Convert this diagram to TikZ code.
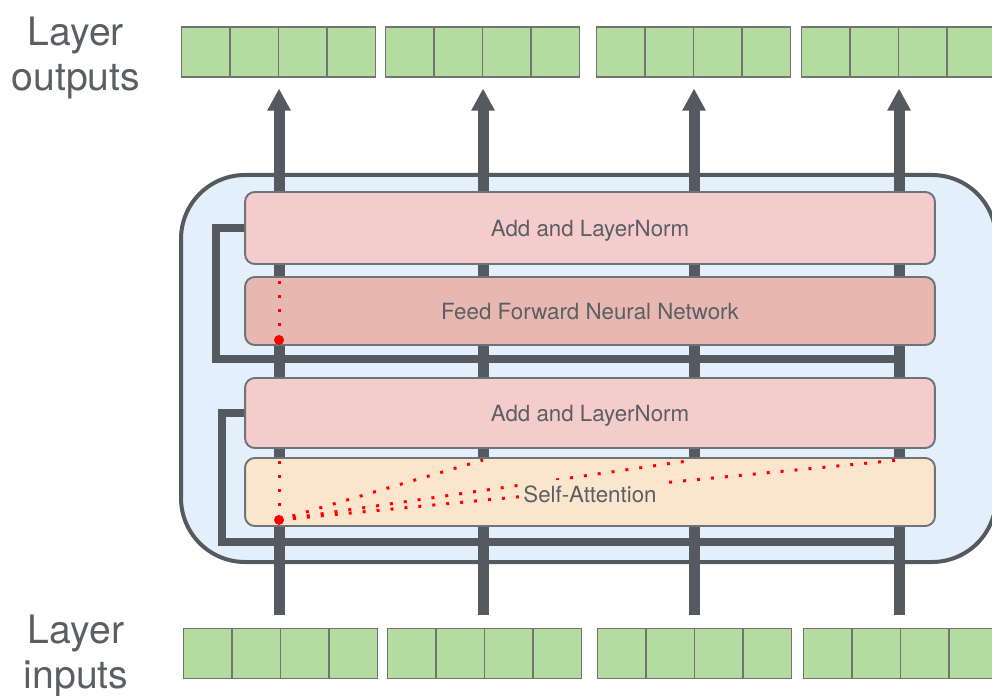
\documentclass[tikz,border=0pt]{standalone}
\usepackage{fontspec}
\setmainfont{TeX Gyre Heros}
\usetikzlibrary{arrows.meta,positioning}

\definecolor{slate}{HTML}{555A60}
\definecolor{textgray}{HTML}{5B5F64}
\definecolor{cellgreen}{HTML}{B4DBA0}
\definecolor{panelblue}{HTML}{E3EFFB}
\definecolor{normred}{HTML}{F4CCCC}
\definecolor{ffnred}{HTML}{E6B8AF}
\definecolor{attnorange}{HTML}{FCE5CD}

\begin{document}
\begin{tikzpicture}[
  x=0.02cm,y=-0.02cm,
  font=\fontsize{12.7}{15}\selectfont,
  cell/.style={draw=black!55,line width=.6pt,fill=cellgreen,minimum width=.97cm,minimum height=1cm,inner sep=0pt,anchor=west},
  block/.style={draw=slate!85,line width=1.1pt,rounded corners=5.5pt,minimum width=13.8cm,text=textgray,text depth=0pt},
  column/.style={slate,line width=.22cm,-{Triangle[width=.44cm,length=.44cm]}},
  residual/.style={slate,line width=.18cm},
  link/.style={red,line width=.06cm,dash pattern=on .06cm off .22cm},
  side/.style={font=\fontsize{22.3}{25.5}\selectfont,align=center,text=textgray}
]
\useasboundingbox (0,0) rectangle (992,696);
\clip (0,0) rectangle (992,696);

% Token vectors above and below the layer.
\foreach \g/\ox/\ix in {1/181/183,2/385/387,3/596/597,4/801/803}{
  \foreach \c in {1,...,4}{
    \node[cell] (out\g\c) at ({\ox+(\c-1)*48.5},52) {};
    \node[cell] (in\g\c) at ({\ix+(\c-1)*48.5},653.5) {};
  }
  \coordinate (col\g) at (out\g2.south east);
}
\node[side] (outlabel) at (76,58) {Layer\\outputs};
\node[side] (inlabel) at (76,656) {Layer\\inputs};

% Encoder layer.
\draw[slate,line width=.08cm,fill=panelblue,rounded corners=1.28cm] (181,175) rectangle (996,562);
\foreach \g in {1,...,4}
  \draw[column] ([yshift=.26cm]col\g |- in\g2.north) -- ([yshift=-.22cm]col\g);

\coordinate (res2) at (col4 |- 0,359);
\coordinate (res1) at (col4 |- 0,542);
\draw[residual] (res2) -- (216,359) |- (590,228);
\draw[residual] (res1) -- (222,542) |- (590,413);

\node[block,fill=normred,minimum height=1.44cm] (ln2) at (590,228) {Add and LayerNorm};
\node[block,fill=ffnred,minimum height=1.36cm] (ffn) at (590,311) {Feed Forward Neural Network};
\node[block,fill=normred,minimum height=1.4cm] (ln1) at (590,413) {Add and LayerNorm};
\node[block,fill=attnorange,minimum height=1.36cm] (attn) at (590,492) {};

% Which positions each token looks at.
\path (ffn.south -| col1) ++(0,-6) coordinate (fdot);
\path (ffn.north -| col1) ++(0,5) coordinate (ftop);
\draw[link] (fdot) -- (ftop);
\path (attn.south -| col1) ++(0,-7) coordinate (adot);
\foreach \k in {1,...,4}{
  \path (attn.north -| col\k) ++(0,3) coordinate (att\k);
  \draw[link] (adot) -- (att\k);
}
\fill[red] (fdot) circle (.1cm);
\fill[red] (adot) circle (.1cm);
\node[fill=attnorange,text=textgray,inner xsep=1.5pt,inner ysep=3pt] (attnlabel) at (590,494) {Self-Attention};
\end{tikzpicture}
\end{document}
